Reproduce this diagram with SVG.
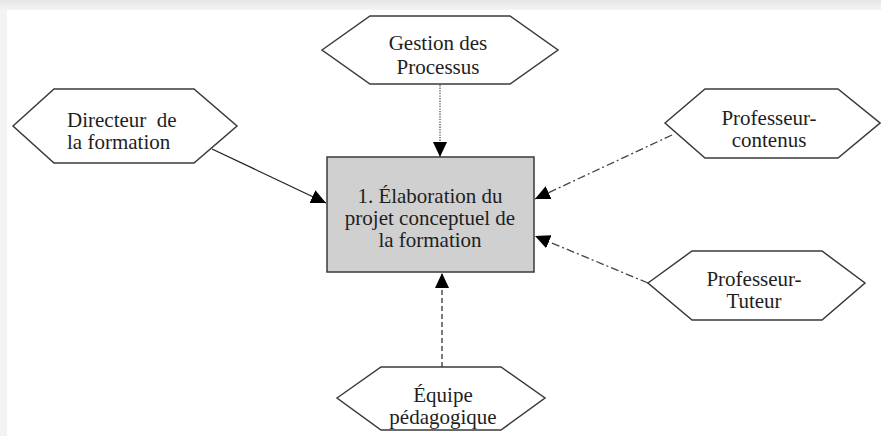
<svg xmlns="http://www.w3.org/2000/svg" width="881" height="436" viewBox="0 0 881 436">
  <defs>
    <linearGradient id="topShade" x1="0" y1="0" x2="0" y2="1">
      <stop offset="0" stop-color="#e6e6e6"/>
      <stop offset="1" stop-color="#f4f4f4"/>
    </linearGradient>
    <marker id="arrow" viewBox="0 0 15 14" markerWidth="15" markerHeight="14" refX="15" refY="7" orient="auto" markerUnits="userSpaceOnUse">
      <path d="M0,0 L15,7 L0,14 z" fill="#000"/>
    </marker>
    <style>
      .hex { fill: #ffffff; stroke: #3a3a3a; stroke-width: 1.5; }
      .box { fill: #d0d0d0; stroke: #3a3a3a; stroke-width: 1.5; }
      .lbl { font-family: "Liberation Serif", "Times New Roman", serif; font-size: 21px; fill: #1e1e1e; text-anchor: middle; }
      .left { text-anchor: start; }
      .conn { fill: none; stroke: #333; stroke-width: 1.3; marker-end: url(#arrow); }
      .solid { stroke: #222; }
      .dotted { stroke-dasharray: 1.3 1.3; stroke: #555; }
      .dashed { stroke-dasharray: 5 3; }
      .dashdot { stroke-dasharray: 8 3 2 3; stroke: #444; }
    </style>
  </defs>

  <!-- page background with soft top and left edges -->
  <rect x="0" y="0" width="881" height="436" fill="#ffffff"/>
  <rect x="0" y="0" width="881" height="10" fill="url(#topShade)"/>
  <rect x="0" y="10" width="7" height="426" fill="#f3f3f3"/>

  <!-- connectors -->
  <g id="connectors">
    <line class="conn dotted" x1="440" y1="85" x2="440" y2="157"/>
    <line class="conn solid" x1="212" y1="149" x2="326" y2="203"/>
    <line class="conn dashdot" x1="672" y1="135" x2="535" y2="199"/>
    <line class="conn dashdot" x1="648" y1="283" x2="535" y2="236"/>
    <line class="conn dashed" x1="442" y1="367" x2="442" y2="273"/>
  </g>

  <g id="process">
    <rect class="box" x="327" y="157" width="207" height="115"/>
    <text class="lbl" x="430" y="203">1. Élaboration du</text>
    <text class="lbl" x="430" y="225">projet conceptuel de</text>
    <text class="lbl" x="430" y="247">la formation</text>
  </g>

  <g id="gestion">
    <polygon class="hex" points="322,50 370,16 510,16 558,50 510,84 370,84"/>
    <text class="lbl" x="438" y="50">Gestion des</text>
    <text class="lbl" x="438" y="74">Processus</text>
  </g>

  <g id="directeur">
    <polygon class="hex" points="13,126 54,89 194,89 237,126 194,163 54,163"/>
    <text class="lbl left" x="67" y="127" xml:space="preserve">Directeur  de</text>
    <text class="lbl left" x="67" y="149">la formation</text>
  </g>

  <g id="prof-contenus">
    <polygon class="hex" points="665,123 705,89 838,89 880,123 838,158 705,158"/>
    <text class="lbl" x="769" y="125">Professeur-</text>
    <text class="lbl" x="769" y="147">contenus</text>
  </g>

  <g id="prof-tuteur">
    <polygon class="hex" points="648,283 692,251 822,251 865,283 822,320 692,320"/>
    <text class="lbl" x="754" y="286">Professeur-</text>
    <text class="lbl" x="754" y="308">Tuteur</text>
  </g>

  <g id="equipe">
    <polygon class="hex" points="337,398 381,367 501,367 545,398 501,430 381,430"/>
    <text class="lbl" x="443" y="402">Équipe</text>
    <text class="lbl" x="443" y="424">pédagogique</text>
  </g>
</svg>
